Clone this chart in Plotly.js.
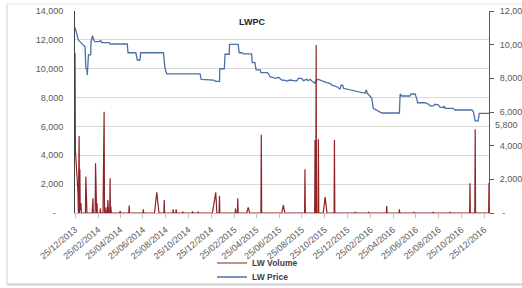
<!DOCTYPE html>
<html>
<head>
<meta charset="utf-8">
<script src="https://cdn.plot.ly/plotly-3.0.1.min.js"></script>
<style>html,body{margin:0;padding:0;background:#fff;}#chart{width:522px;height:288px;}</style>
</head>
<body>
<div id="chart"></div>
<script>
// ---------------- DATA ----------------
const chartTitle = 'LWPC';
const volumeName = 'LW Volume';
const priceName = 'LW Price';

const volumeDates = [
  '2013-12-25','2013-12-26','2014-01-02','2014-01-03','2014-01-05','2014-01-06','2014-01-07','2014-01-08','2014-01-10','2014-01-11',
  '2014-01-22','2014-01-23','2014-01-24','2014-01-25','2014-01-26','2014-02-09','2014-02-10','2014-02-11','2014-02-12','2014-02-17',
  '2014-02-18','2014-02-19','2014-02-21','2014-02-22','2014-02-23','2014-03-02','2014-03-03','2014-03-04','2014-03-10','2014-03-11',
  '2014-03-12','2014-03-13','2014-03-14','2014-03-17','2014-03-18','2014-03-19','2014-03-22','2014-03-23','2014-03-24','2014-03-25',
  '2014-03-28','2014-03-29','2014-03-30','2014-03-31','2014-04-01','2014-04-02','2014-04-24','2014-04-25','2014-04-26','2014-05-18',
  '2014-05-19','2014-05-20','2014-06-25','2014-06-26','2014-06-27','2014-07-26','2014-08-01','2014-08-07','2014-08-20','2014-08-21',
  '2014-08-22','2014-09-13','2014-09-14','2014-09-15','2014-09-21','2014-09-22','2014-09-23','2014-10-09','2014-10-10','2014-10-11',
  '2014-11-04','2014-11-05','2014-11-06','2014-11-19','2014-11-20','2014-11-21','2014-12-28','2015-01-06','2015-01-09','2015-01-15',
  '2015-01-16','2015-01-17','2015-02-27','2015-02-28','2015-03-01','2015-03-05','2015-03-06','2015-03-07','2015-03-30','2015-04-03',
  '2015-04-07','2015-05-07','2015-05-08','2015-05-09','2015-07-02','2015-07-06','2015-07-10','2015-09-01','2015-09-02','2015-09-03',
  '2015-09-28','2015-09-29','2015-09-30','2015-10-01','2015-10-02','2015-10-03','2015-10-07','2015-10-08','2015-10-09','2015-10-21',
  '2015-10-26','2015-10-31','2015-11-19','2015-11-20','2015-11-21','2016-01-14','2016-01-15','2016-01-16','2016-02-19','2016-02-20',
  '2016-02-21','2016-04-07','2016-04-08','2016-04-09','2016-05-11','2016-05-12','2016-05-13','2016-06-19','2016-06-20','2016-06-21',
  '2016-08-09','2016-08-10','2016-08-11','2016-09-24','2016-09-25','2016-09-26','2016-11-16','2016-11-17','2016-11-18','2016-11-30',
  '2016-12-01','2016-12-02','2017-01-06','2017-01-07'
];
const volumeValues = [
  11090,4400,1400,0,5340,0,3030,200,700,0,
  0,2520,0,780,0,0,780,1020,0,0,
  3450,0,0,670,0,0,330,0,0,2820,
  0,7020,0,0,400,0,0,900,500,0,
  0,2400,0,440,100,0,0,140,0,0,
  510,0,0,260,0,0,1435,0,0,900,
  0,0,260,0,0,260,0,0,100,0,
  0,120,0,0,100,0,0,1435,0,0,
  1200,0,0,300,0,0,1020,0,0,395,
  0,0,5420,0,0,555,0,0,3030,0,
  0,5060,0,0,11650,0,0,5110,0,0,
  1110,0,0,5060,0,0,80,0,0,80,
  0,0,485,0,0,256,0,0,80,0,
  0,80,0,0,80,0,0,2060,0,0,
  5800,0,0,2100
];

const priceDates = [
  '2013-12-25','2014-01-03','2014-01-07','2014-01-16','2014-01-21','2014-01-23','2014-01-26','2014-01-27','2014-01-30','2014-02-05',
  '2014-02-06','2014-02-10','2014-02-14','2014-02-17','2014-02-28','2014-03-04','2014-03-07','2014-03-27','2014-03-29','2014-05-14',
  '2014-05-16','2014-06-06','2014-06-10','2014-06-17','2014-06-19','2014-08-19','2014-08-23','2014-08-28','2014-11-25','2014-11-28',
  '2014-12-31','2015-01-06','2015-01-16','2015-01-17','2015-01-29','2015-01-31','2015-02-11','2015-02-12','2015-03-07','2015-03-10',
  '2015-03-17','2015-03-21','2015-04-12','2015-04-14','2015-04-21','2015-04-24','2015-05-05','2015-05-07','2015-05-25','2015-05-29',
  '2015-05-31','2015-06-09','2015-06-16','2015-06-23','2015-07-02','2015-07-11','2015-07-15','2015-07-24','2015-08-11','2015-08-15',
  '2015-08-24','2015-08-29','2015-09-07','2015-09-11','2015-09-16','2015-09-20','2015-09-24','2015-09-29','2015-10-02','2015-10-08',
  '2015-10-17','2015-10-21','2015-10-30','2015-11-08','2015-11-13','2015-11-26','2015-12-05','2015-12-08','2015-12-12','2015-12-14',
  '2015-12-23','2016-01-01','2016-01-10','2016-01-19','2016-02-04','2016-02-10','2016-02-13','2016-02-16','2016-02-23','2016-02-28',
  '2016-03-03','2016-03-08','2016-03-21','2016-03-26','2016-05-12','2016-05-14','2016-05-18','2016-06-09','2016-06-12','2016-06-23',
  '2016-06-27','2016-06-30','2016-07-20','2016-07-29','2016-08-02','2016-08-11','2016-08-15','2016-08-24','2016-08-29','2016-09-07',
  '2016-09-09','2016-09-11','2016-10-03','2016-10-08','2016-11-22','2016-11-26','2016-11-29','2016-12-01','2016-12-09','2016-12-12',
  '2017-01-07'
];
const priceValues = [
  11030,10280,10180,9980,9880,8600,8500,8200,9390,9390,
  10180,10530,10240,10180,10180,10240,10120,10120,10040,10040,
  9520,9520,9090,9090,9520,9520,8600,8260,8260,7940,
  7900,7820,7820,8570,8570,9430,9430,10020,10020,9520,
  9520,9450,9450,8930,8930,8500,8500,8340,8340,8200,
  8100,8040,8000,8060,7900,7880,7840,7900,7840,8000,
  8000,7860,7940,7860,7940,7840,7800,7700,7900,7940,
  7860,7800,7740,7700,7600,7500,7370,7600,7600,7410,
  7370,7310,7270,7210,7150,7110,7310,7110,6950,6810,
  6220,6160,6020,5940,5940,7070,6950,6950,7070,7070,
  6810,6550,6550,6460,6360,6360,6460,6420,6280,6280,
  6360,6220,6220,6120,6120,6020,5720,5470,5470,5920,
  5920
];

const xTickLabels = ['25/12/2013','25/02/2014','25/04/2014','25/06/2014','25/08/2014','25/10/2014','25/12/2014',
  '25/02/2015','25/04/2015','25/06/2015','25/08/2015','25/10/2015','25/12/2015','25/02/2016','25/04/2016',
  '25/06/2016','25/08/2016','25/10/2016','25/12/2016'];
const leftTickValues = [0,2000,4000,6000,8000,10000,12000,14000];
const leftTickLabels = ['-\u00a0\u00a0\u00a0','2,000','4,000','6,000','8,000','10,000','12,000','14,000'];
const rightTickValues = [0,2000,4000,6000,8000,10000,12000];
const rightTickLabels = ['\u00a0-','2,000','4,000','6,000','8,000','10,000','12,000'];
const endLabel = '5,800';

// ---------------- CHART ----------------
const toIso = s => { const p = s.split('/'); return p[2] + '-' + p[1] + '-' + p[0]; };
const FONT = 'Liberation Sans, Arial, sans-serif';
const TXT = '#595959';

// pixel helpers for paper coords (plot area x 75..489, y 11..213)
const px = x => (x - 75) / 414;
const py = y => (213 - y) / 202;

const volume = {
  x: volumeDates, y: volumeValues, name: volumeName, type: 'scatter', mode: 'lines',
  line: {color: '#8e2424', width: 1.2}, yaxis: 'y2', legend: 'legend', hoverinfo: 'skip'
};
const price = {
  x: priceDates, y: priceValues, name: priceName, type: 'scatter', mode: 'lines',
  line: {color: '#4a70a6', width: 1.3}, yaxis: 'y', legend: 'legend2', hoverinfo: 'skip'
};

const legendFont = {family: FONT, size: 8.5, weight: 'bold', color: '#404040'};
const layout = {
  width: 522, height: 288,
  margin: {l: 75, r: 33, t: 11, b: 75, autoexpand: false},
  paper_bgcolor: '#ffffff', plot_bgcolor: 'rgba(0,0,0,0)',
  font: {family: FONT, size: 9, color: TXT},
  title: {text: chartTitle, font: {family: FONT, size: 9, weight: 'bold', color: '#262626'},
          x: 252 / 522, xanchor: 'center', xref: 'container', y: 1 - 22 / 288, yanchor: 'middle', yref: 'container',
          automargin: false},
  showlegend: true,
  legend: {orientation: 'v', xref: 'container', yref: 'container', x: 212 / 522, xanchor: 'left',
           y: 1 - 263 / 288, yanchor: 'middle', font: legendFont, bgcolor: 'rgba(0,0,0,0)'},
  legend2: {orientation: 'v', xref: 'container', yref: 'container', x: 212 / 522, xanchor: 'left',
           y: 1 - 277 / 288, yanchor: 'middle', font: legendFont, bgcolor: 'rgba(0,0,0,0)'},
  xaxis: {
    type: 'date', range: ['2013-12-25', '2017-01-07'], automargin: false,
    tickmode: 'array', tickvals: xTickLabels.map(toIso), ticktext: xTickLabels,
    tickangle: -40, ticks: 'outside', ticklen: 4, tickcolor: '#bfbfbf', ticklabelstandoff: 3,
    showline: true, linecolor: '#bfbfbf', linewidth: 1, showgrid: false, zeroline: false,
    tickfont: {family: FONT, size: 9, color: TXT}
  },
  // right axis: price
  yaxis: {
    side: 'right', range: [0, 12000], automargin: false, tickmode: 'array', tickvals: rightTickValues, ticktext: rightTickLabels,
    showgrid: false, zeroline: false, showline: true, linecolor: '#595959', linewidth: 1,
    ticks: 'outside', ticklen: 4, tickcolor: '#595959', ticklabelstandoff: 4,
    tickfont: {family: FONT, size: 9, color: TXT}
  },
  // left axis: volume
  yaxis2: {
    side: 'left', overlaying: 'y', range: [0, 14000], automargin: false, tickmode: 'array', tickvals: leftTickValues, ticktext: leftTickLabels,
    showgrid: true, gridcolor: '#d9d9d9', gridwidth: 1, zeroline: false, showline: true, linecolor: '#404040', linewidth: 1,
    ticks: '', ticklabelstandoff: 9,
    tickfont: {family: FONT, size: 9, color: TXT}
  },
  annotations: [
    {text: endLabel, xref: 'paper', yref: 'paper', x: px(493), y: py(125), xanchor: 'left', yanchor: 'middle',
     showarrow: false, font: {family: FONT, size: 9, color: TXT}}
  ],
  shapes: [
    {type: 'line', xref: 'paper', yref: 'paper', x0: px(7), x1: px(530), y0: py(4), y1: py(4), line: {color: '#e3e3e3', width: 1}},
    {type: 'line', xref: 'paper', yref: 'paper', x0: px(7), x1: px(7), y0: py(4), y1: py(284), line: {color: '#d0d0d0', width: 1}},
    {type: 'line', xref: 'paper', yref: 'paper', x0: px(7), x1: px(530), y0: py(284.5), y1: py(284.5), line: {color: '#cfcfcf', width: 2}}
  ]
};

Plotly.newPlot('chart', [volume, price], layout, {staticPlot: true, displayModeBar: false});
</script>
</body>
</html>
